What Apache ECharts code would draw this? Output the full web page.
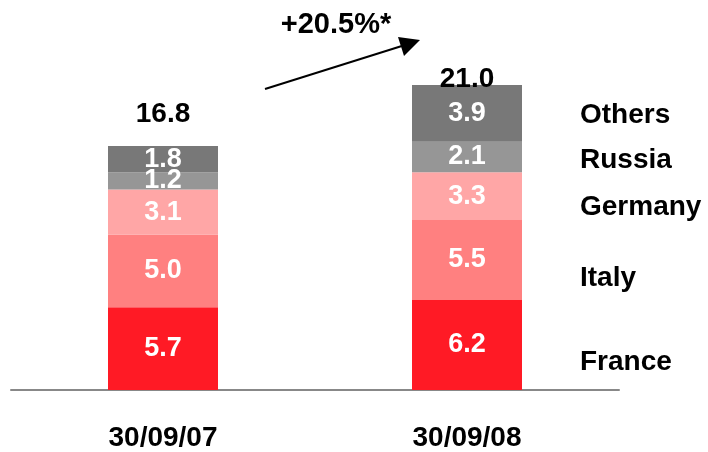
<!DOCTYPE html>
<html>
<head>
<meta charset="utf-8">
<script src="https://cdn.jsdelivr.net/npm/echarts@6/dist/echarts.min.js"></script>
<style>
  html, body { margin: 0; padding: 0; background: #fff; }
  #chart { width: 708px; height: 452px; }
</style>
</head>
<body>
<div id="chart"></div>
<script>
// Portfolio by country, two reporting dates
const categories = ['30/09/07', '30/09/08'];
const seriesNames = ['France', 'Italy', 'Germany', 'Russia', 'Others'];
const france  = [5.7, 6.2];
const italy   = [5.0, 5.5];
const germany = [3.1, 3.3];
const russia  = [1.2, 2.1];
const others  = [1.8, 3.9];
const totals  = [16.8, 21.0];
const growthLabel = '+20.5%*';

const values = [france, italy, germany, russia, others];
const colors = ['#FF1A25', '#FF8080', '#FFA6A6', '#969696', '#787878'];
const FONT = '"Liberation Sans", Arial, sans-serif';

const chart = echarts.init(document.getElementById('chart'));

const barSeries = seriesNames.map((name, i) => ({
  name: name,
  type: 'bar',
  stack: 'total',
  barWidth: 110,
  data: values[i],
  itemStyle: { color: colors[i] },
  label: {
    show: true,
    position: 'inside',
    color: '#fff',
    fontFamily: FONT,
    fontWeight: 'bold',
    fontSize: 27,
    formatter: p => p.value.toFixed(1)
  },
  emphasis: { disabled: true }
}));

// Totals above each stack (invisible anchor points carrying the labels)
const totalOffsets = [[0, -32], [0, -6]];
barSeries.push({
  type: 'scatter',
  symbolSize: 1,
  itemStyle: { color: 'rgba(0,0,0,0)', opacity: 1 },
  label: {
    show: true,
    position: 'inside',
    color: '#000',
    fontFamily: FONT,
    fontWeight: 'bold',
    fontSize: 28,
    formatter: p => p.value.toFixed(1)
  },
  data: totals.map((v, i) => ({
    value: v,
    label: { offset: totalOffsets[i] }
  })),
  emphasis: { disabled: true },
  z: 10
});

// Country names to the right of the latest stack
const legendY = [362, 278, 207, 160, 115];
const legendTexts = seriesNames.map((name, i) => ({
  type: 'text',
  x: 580,
  y: legendY[i],
  style: {
    text: name,
    fill: '#000',
    font: 'bold 28px ' + FONT,
    textVerticalAlign: 'middle'
  }
}));

chart.setOption({
  animation: false,
  grid: { left: 11, right: 89, top: 85, bottom: 62 },
  xAxis: {
    type: 'category',
    data: categories,
    axisTick: { show: false },
    axisLine: { lineStyle: { color: '#888', width: 2 } },
    axisLabel: {
      margin: 34,
      color: '#000',
      fontFamily: FONT,
      fontWeight: 'bold',
      fontSize: 28
    }
  },
  yAxis: {
    type: 'value',
    min: 0,
    max: 21,
    show: false,
    splitLine: { show: false }
  },
  series: barSeries,
  graphic: legendTexts.concat([
    {
      type: 'text',
      x: 336,
      y: 25,
      style: {
        text: growthLabel,
        fill: '#000',
        font: 'bold 29px ' + FONT,
        textAlign: 'center',
        textVerticalAlign: 'middle'
      }
    },
    {
      type: 'line',
      shape: { x1: 265, y1: 89, x2: 405, y2: 45 },
      style: { stroke: '#000', lineWidth: 2 }
    },
    {
      type: 'polygon',
      shape: { points: [[420, 40], [398, 37], [404, 56]] },
      style: { fill: '#000' }
    }
  ])
});
</script>
</body>
</html>
